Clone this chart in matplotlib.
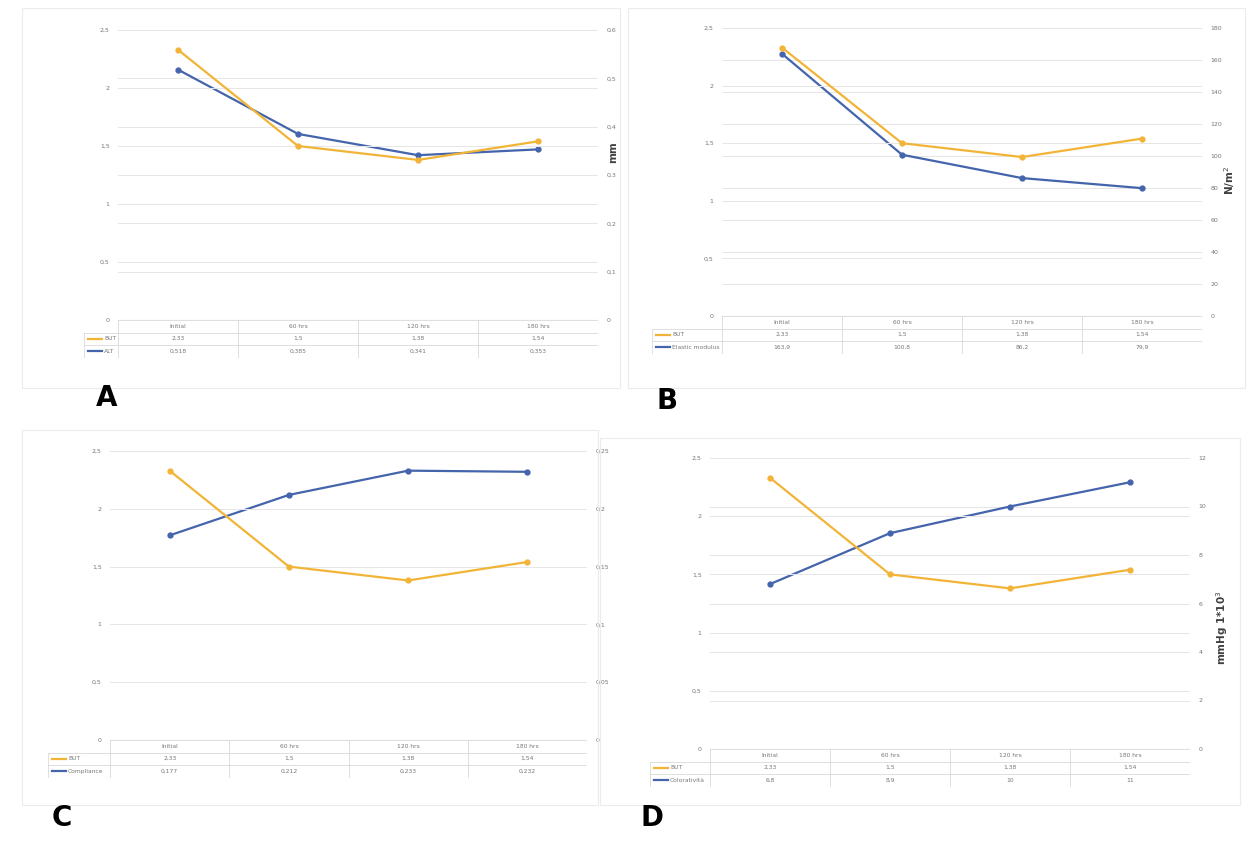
import matplotlib.pyplot as plt
from matplotlib.patches import Rectangle

W, H = 1259, 848

categories = ["Initial", "60 hrs", "120 hrs", "180 hrs"]
but_values = [2.33, 1.5, 1.38, 1.54]

a_name = "ALT"
a_values = [0.518, 0.385, 0.341, 0.353]
b_name = "Elastic modulus"
b_values = [163.9, 100.8, 86.2, 79.9]
c_name = "Compliance"
c_values = [0.177, 0.212, 0.233, 0.232]
d_name = "Coloratività"
d_values = [6.8, 8.9, 10, 11]

left_ticks = [0, 0.5, 1, 1.5, 2, 2.5]
a_ticks = [0, 0.1, 0.2, 0.3, 0.4, 0.5, 0.6]
b_ticks = [0, 20, 40, 60, 80, 100, 120, 140, 160, 180]
c_ticks = [0, 0.05, 0.1, 0.15, 0.2, 0.25]
d_ticks = [0, 2, 4, 6, 8, 10, 12]

YEL = "#F2B437"
BLU = "#4464AC"
GRID = "#e6e6e6"
TXT = "#777777"

fig = plt.figure(figsize=(W / 100, H / 100), dpi=100)


def px(x0, y0, x1, y1):
    return [x0 / W, 1 - y1 / H, (x1 - x0) / W, (y1 - y0) / H]


def fmt(v):
    return f"{v:g}".replace(".", ",")


def panel(box, name2, vals2, rticks, leg_x, rlabel=None, rlab_pos=None):
    x0, y0, x1, y1 = box
    ax = fig.add_axes(px(x0, y0, x1, y1))
    ax2 = ax.twinx()
    xs = range(len(categories))
    ax.set_xlim(-0.5, 3.5)
    ax.set_ylim(0, left_ticks[-1])
    ax2.set_ylim(0, rticks[-1])
    ax.set_yticks(left_ticks)
    ax.set_yticklabels([fmt(t) for t in left_ticks])
    ax2.set_yticks(rticks)
    ax2.set_yticklabels([fmt(t) for t in rticks])
    ax.set_xticks([])
    for a in (ax, ax2):
        for s in a.spines.values():
            s.set_visible(False)
        a.tick_params(length=0, labelsize=4.5, colors=TXT, pad=6)
        a.yaxis.grid(True, color=GRID, lw=0.7)
        a.set_axisbelow(True)
    ax.axhline(0, color="#cfcfcf", lw=0.8)
    ax2.plot(xs, vals2, color=BLU, lw=1.6, marker="o", ms=3.5, zorder=3)
    ax.plot(xs, but_values, color=YEL, lw=1.6, marker="o", ms=3.5, zorder=4)
    ax.set_zorder(ax2.get_zorder() + 1)
    ax.patch.set_visible(False)

    # data table under the plot
    rh = 12.5
    tab = fig.add_axes(px(leg_x, y1, x1, y1 + 3 * rh))
    step = (x1 - x0) / 4
    tab.set_xlim(-(x0 - leg_x) / step, 4)
    tab.set_ylim(3, 0)
    tab.axis("off")
    lx = tab.get_xlim()[0]
    for r in range(4):
        tab.plot([lx if r > 0 else 0, 4], [r, r], color="#d9d9d9", lw=0.6)
    for c in range(5):
        tab.plot([c, c], [0, 3], color="#d9d9d9", lw=0.6)
    tab.plot([lx, lx], [1, 3], color="#d9d9d9", lw=0.6)
    for i, cat in enumerate(categories):
        tab.text(i + 0.5, 0.5, cat, ha="center", va="center", fontsize=4.3, color=TXT)
        tab.text(i + 0.5, 1.5, fmt(but_values[i]), ha="center", va="center", fontsize=4.3, color=TXT)
        tab.text(i + 0.5, 2.5, fmt(vals2[i]), ha="center", va="center", fontsize=4.3, color=TXT)
    seg = 14 / step
    for row, col, lab in ((1.5, YEL, "BUT"), (2.5, BLU, name2)):
        tab.plot([lx + 0.03, lx + 0.03 + seg], [row, row], color=col, lw=1.6)
        tab.text(lx + 0.05 + seg, row, lab, ha="left", va="center", fontsize=4.3, color=TXT)

    if rlabel:
        fig.text(rlab_pos[0] / W, 1 - rlab_pos[1] / H, rlabel, rotation=90,
                 ha="center", va="center", fontsize=7.5, fontweight="bold", color="#404040")


panel((118, 30, 598, 320), a_name, a_values, a_ticks, 84, "mm", (613, 152))
panel((722, 28, 1202, 316), b_name, b_values, b_ticks, 652, "N/m$^2$", (1230, 180))
panel((110, 451, 587, 740), c_name, c_values, c_ticks, 48)
panel((710, 458, 1190, 749), d_name, d_values, d_ticks, 650, "mmHg 1*10$^3$", (1222, 628))

# panel frames
for x0, y0, x1, y1 in ((22, 8, 620, 388), (628, 8, 1245, 388),
                       (22, 430, 598, 805), (600, 438, 1240, 805)):
    fig.patches.append(Rectangle((x0 / W, 1 - y1 / H), (x1 - x0) / W, (y1 - y0) / H,
                                 transform=fig.transFigure, fill=False,
                                 ec="#ececec", lw=0.8))

for lab, x, y in (("A", 107, 398), ("B", 667, 401), ("C", 62, 818), ("D", 652, 818)):
    fig.text(x / W, 1 - y / H, lab, ha="center", va="center",
             fontsize=20, fontweight="bold", color="black")

fig.savefig("out.png", dpi=100)
